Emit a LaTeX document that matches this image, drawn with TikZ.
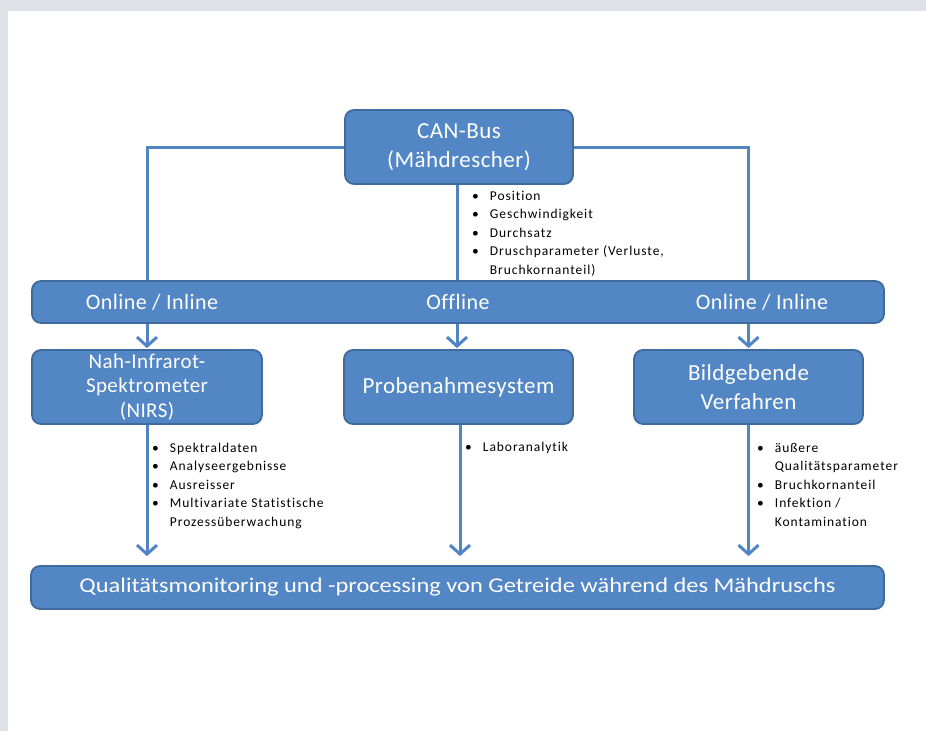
\documentclass[tikz,border=0pt]{standalone}
\usepackage{fontspec}
\setmainfont[Ligatures=NoCommon]{Carlito}
\newfontfamily\smallfont[LetterSpace=7,Ligatures=NoCommon]{Carlito}
\newfontfamily\boxfont[LetterSpace=2,Ligatures=NoCommon]{Carlito}
\usetikzlibrary{arrows.meta,calc}
\definecolor{boxfill}{HTML}{5286C4}
\definecolor{boxline}{HTML}{3E6A9C}
\definecolor{conn}{HTML}{5084C2}
\definecolor{pagebg}{HTML}{DEE1E8}
\tikzset{
  bluebox/.style={draw=boxline, line width=1.8pt, fill=boxfill, rounded corners=9pt,
    text=white, align=center, inner sep=0pt, font=\boxfont\fontsize{23}{29}\selectfont},
  connector/.style={draw=conn, line width=3pt},
  arrowconn/.style={connector, -{Straight Barb[length=9pt,width=20pt,line width=3pt]}},
  bullets/.style={anchor=north west, inner sep=0pt, text=black, align=left,
    font=\smallfont\fontsize{13.5}{18.5}\selectfont}
}
\newcommand{\blist}[1]{\begin{tabular}{@{}l@{\hspace{11pt}}l@{}}#1\end{tabular}}
\begin{document}
\begin{tikzpicture}[x=1pt,y=-1pt]
\useasboundingbox (0,0) rectangle (926,731);
\fill[pagebg] (0,0) rectangle (926,731);
\fill[white] (8,11) rectangle (926,731);

\node[bluebox, minimum width=228pt, minimum height=74pt] (can) at (459,147) {CAN-Bus\\(Mähdrescher)};
\node[bluebox, minimum width=852pt, minimum height=42pt] (bar) at (458,302) {};
\node[text=white, font=\boxfont\fontsize{22}{26}\selectfont, inner sep=0pt] (t1) at (152,302) {Online / Inline};
\node[text=white, font=\boxfont\fontsize{22}{26}\selectfont, inner sep=0pt] (t2) at (458,302) {Offline};
\node[text=white, font=\boxfont\fontsize{22}{26}\selectfont, inner sep=0pt] (t3) at (762,302) {Online / Inline};

\node[bluebox, minimum width=230pt, minimum height=74pt, font=\boxfont\fontsize{21}{24.5}\selectfont] (nirs) at (147,387) {Nah-Infrarot-\\Spektrometer\\(NIRS)};
\node[bluebox, minimum width=229pt, minimum height=74pt] (probe) at (458.5,387) {Probenahmesystem};
\node[bluebox, minimum width=229pt, minimum height=74pt] (bild) at (748.5,387) {Bildgebende\\Verfahren};

\node[bluebox, minimum width=853pt, minimum height=43pt, font=\fontsize{21}{25}\selectfont] (qual) at (457.5,587.5)
  {\resizebox{756pt}{\height}{Qualitätsmonitoring und -processing von Getreide während des Mähdruschs}};

% connectors from CAN-Bus
\draw[connector] (can.west) -| (bar.north -| nirs.north);
\draw[connector] (can.east) -| (bar.north -| bild.north);
\draw[connector] ($(can.south)+(-2,0)$) coordinate (cs) -- (cs |- bar.north);

% arrows bar -> boxes
\draw[arrowconn, shorten >=1pt] (bar.south -| nirs.north) -- (nirs.north);
\draw[arrowconn, shorten >=1pt] (bar.south -| cs) -- (cs |- probe.north);
\draw[arrowconn, shorten >=1pt] (bar.south -| bild.north) -- (bild.north);

% arrows boxes -> bottom bar
\draw[arrowconn, shorten >=9pt] (nirs.south) -- (qual.north -| nirs.south);
\coordinate (ps) at ($(probe.south)+(1.5,0)$);
\draw[arrowconn, shorten >=9pt] (ps) -- (ps |- qual.north);
\draw[arrowconn, shorten >=9pt] (bild.south) -- (qual.north -| bild.south);

% bullet lists
\node[bullets] (l1) at (472,187) {\blist{\textbullet & Position\\ \textbullet & Geschwindigkeit\\ \textbullet & Durchsatz\\ \textbullet & Druschparameter (Verluste,\\ & Bruchkornanteil)}};
\node[bullets] (l2) at (152,439) {\blist{\textbullet & Spektraldaten\\ \textbullet & Analyseergebnisse\\ \textbullet & Ausreisser\\ \textbullet & Multivariate Statistische\\ & Prozessüberwachung}};
\node[bullets] (l3) at (465,438) {\blist{\textbullet & Laboranalytik}};
\node[bullets] (l4) at (757,439) {\blist{\textbullet & äußere\\ & Qualitätsparameter\\ \textbullet & Bruchkornanteil\\ \textbullet & Infektion /\\ & Kontamination}};
\end{tikzpicture}
\end{document}
